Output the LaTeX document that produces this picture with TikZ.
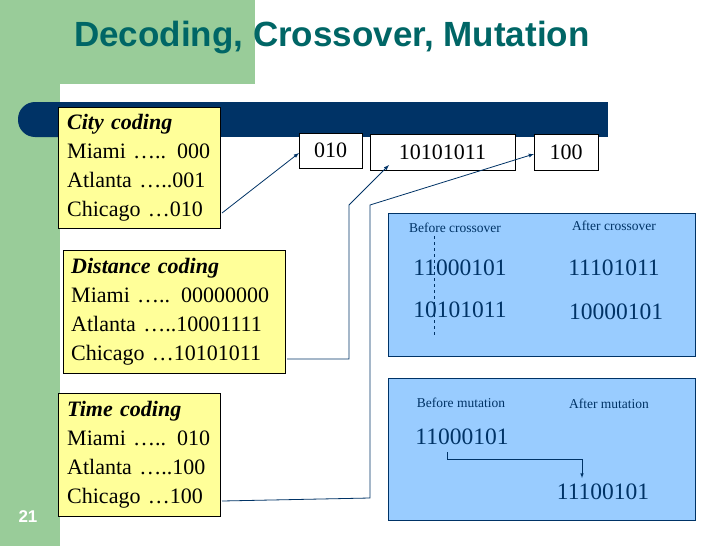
\documentclass[tikz,border=0pt]{standalone}
\usepackage{fontspec}
\setmainfont{Liberation Serif}
\newfontfamily\sansf{Liberation Sans}
\begin{document}
\begin{tikzpicture}[x=1pt,y=-1pt,
  ybox/.style={draw=black,fill=yellowfill,align=left,anchor=north west,inner xsep=0pt,inner ysep=4pt,font=\fontsize{22}{28.7}\selectfont},
  wbox/.style={draw=black,fill=white,font=\fontsize{22}{24}\selectfont,inner sep=0pt},
  bbox/.style={draw=navy,fill=bluefill},
  small/.style={font=\fontsize{13.5}{15}\selectfont,text=navy},
  big/.style={font=\fontsize{23.5}{26}\selectfont,text=navy},
  conn/.style={draw=navy,line width=0.8pt,-latex}]
\definecolor{yellowfill}{RGB}{255,255,153}
\definecolor{bluefill}{RGB}{153,204,255}
\definecolor{navy}{RGB}{0,51,102}
\definecolor{teal}{RGB}{0,102,102}
\definecolor{greenbg}{RGB}{153,204,153}
\useasboundingbox (0,0) rectangle (728,546);
\fill[white] (0,0) rectangle (728,546);
\fill[greenbg] (0,0) rectangle (255,84);
\fill[greenbg] (0,0) rectangle (60,546);
\fill[white,rounded corners=10pt] (65,86) rectangle (300,140);
\fill[navy,rounded corners=17pt] (18,102) rectangle (100,137);
\fill[navy] (50,102) rectangle (608,137);
\node[font=\sansf\bfseries\fontsize{35}{37}\selectfont,text=teal,anchor=west,inner sep=0pt] (title) at (74,38) {Decoding, Crossover, Mutation};
\node[font=\sansf\bfseries\fontsize{17}{19}\selectfont,text=white] (num) at (28,517) {21};
% yellow boxes
\node[ybox,minimum width=162,minimum height=121,text width=158] (city) at (58,107)
 {\hspace*{7pt}\textbf{\textit{City coding}}\\\hspace*{7pt}Miami ….. 000\\\hspace*{7pt}Atlanta …..001\\\hspace*{7pt}Chicago …010};
\node[ybox,minimum width=222,minimum height=123,text width=220] (dist) at (63,250)
 {\hspace*{7pt}\textbf{\textit{Distance coding}}\\\hspace*{7pt}Miami ….. 00000000\\\hspace*{7pt}Atlanta …..10001111\\\hspace*{7pt}Chicago …10101011};
\node[ybox,minimum width=162,minimum height=123,text width=158] (time) at (58,393)
 {\hspace*{7pt}\textbf{\textit{Time coding}}\\\hspace*{7pt}Miami ….. 010\\\hspace*{7pt}Atlanta …..100\\\hspace*{7pt}Chicago …100};
% top boxes
\node[wbox,minimum width=63,minimum height=35] (b1) at (330.5,150.5) {010};
\node[wbox,minimum width=145,minimum height=36] (b2) at (442.5,152) {10101011};
\node[wbox,minimum width=64,minimum height=36] (b3) at (566,152) {100};
% blue boxes
\draw[bbox] (388,213) rectangle (695,356);
\draw[bbox] (388,378) rectangle (695,520);
\node[small] (bc) at (455,228) {Before crossover};
\node[small] (ac) at (614,226) {After crossover};
\node[big] (c1) at (460,268) {11000101};
\node[big] (c2) at (460,310) {10101011};
\node[big] (c3) at (614,268) {11101011};
\node[big] (c4) at (616,312) {10000101};
\draw[navy,dashed] (434,236) -- (434,335);
\node[small] (bm) at (461,403) {Before mutation};
\node[small] (am) at (609,404) {After mutation};
\node[big] (m1) at (462,437) {11000101};
\node[big] (m2) at (603,492) {11100101};
\coordinate (mA) at (447,452);
\coordinate (mB) at (582,478);
\draw[conn,line width=0.6pt] (mA) |- (582,459) -- (mB);
% connectors
\coordinate (s1) at (222,213);
\coordinate (e1) at (299,153);
\draw[conn] (s1) -- (e1);
\coordinate (s2) at (287,359);
\coordinate (e2) at (389,165);
\draw[conn] (s2) -- (349,359) -- (349,205) -- (e2);
\coordinate (s3) at (222,501);
\coordinate (e3) at (534,154);
\draw[conn] (s3) -- (370,498) -- (370,205) -- (e3);
\end{tikzpicture}
\end{document}
